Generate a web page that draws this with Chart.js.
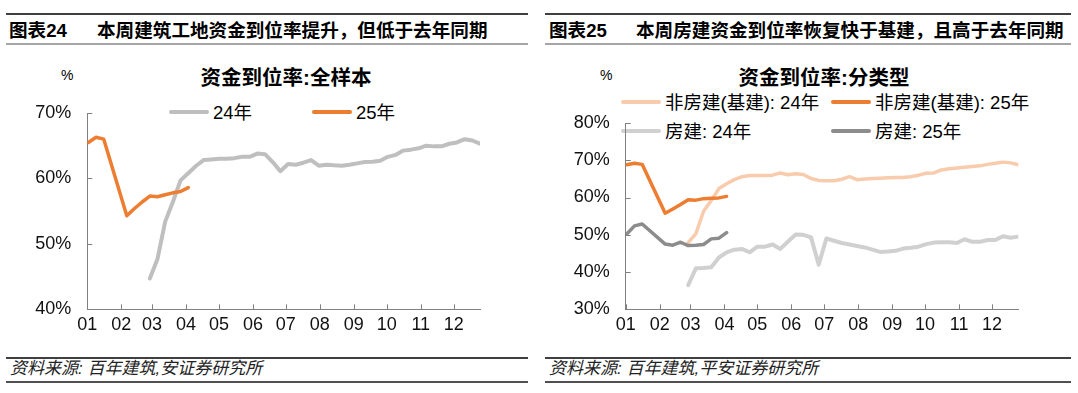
<!DOCTYPE html>
<html lang="zh">
<head>
    <meta charset="UTF-8">
    <title>资金到位率</title>
    <style>
        body {
            margin: 0;
            width: 1078px;
            height: 393px;
            background: #fff;
            position: relative;
            overflow: hidden;
            font-family: 'Liberation Sans', 'Noto Sans CJK SC', sans-serif;
            color: #000;
        }
        .abs { position: absolute; white-space: nowrap; }
        .line-top { position: absolute; height: 2px; background: #404040; }
        .line-sub { position: absolute; height: 2px; background: #a6a6a6; }
        .head { font-size: 18.6px; font-weight: bold; top: 15px; }
        .ctitle { font-size: 20.5px; font-weight: bold; top: 61px; transform: translateX(-50%); }
        .unit { font-size: 14px; top: 67px; }
        .legend { font-size: 18.5px; line-height: 22px; }
        .legend i { display: inline-block; width: 40px; height: 4px; border-radius: 2px; vertical-align: middle; margin-right: 4px; position: relative; top: -2px; }
        .src { font-size: 17px; line-height: 20px; font-style: italic; top: 359px; color: #222; }
        canvas { position: absolute; }
    </style>
</head>
<body>
    <!-- 左图 -->
    <div class="line-top" style="left:6px;width:522px;top:13px"></div>
    <div class="abs head" style="left:9px">图表24</div>
    <div class="abs head" style="left:97px">本周建筑工地资金到位率提升，但低于去年同期</div>
    <div class="line-sub" style="left:6px;width:522px;top:43px"></div>
    <div class="abs unit" style="left:61px">%</div>
    <div class="abs ctitle" style="left:286px">资金到位率:全样本</div>
    <div class="abs legend" style="left:169px;top:102px"><i style="background:#bfbfbf"></i>24年</div>
    <div class="abs legend" style="left:312px;top:102px"><i style="background:#ed7d31"></i>25年</div>
    <canvas id="chartTotal" width="480" height="269" style="left:20px;top:81px;width:480px;height:269px"></canvas>
    <div class="line-top" style="left:6px;width:522px;top:357px"></div>
    <div class="abs src" style="left:10px">资料来源: 百年建筑,安证券研究所</div>
    <div class="line-top" style="left:6px;width:522px;top:381px;background:#505050"></div>

    <!-- 右图 -->
    <div class="line-top" style="left:545px;width:526px;top:13px"></div>
    <div class="abs head" style="left:549px">图表25</div>
    <div class="abs head" style="left:636px">本周房建资金到位率恢复快于基建，且高于去年同期</div>
    <div class="line-sub" style="left:545px;width:526px;top:43px"></div>
    <div class="abs unit" style="left:600px">%</div>
    <div class="abs ctitle" style="left:824px">资金到位率:分类型</div>
    <div class="abs legend" style="left:621px;top:92px"><i style="background:#f8cbad"></i>非房建(基建): 24年</div>
    <div class="abs legend" style="left:831px;top:92px"><i style="background:#ed7d31"></i>非房建(基建): 25年</div>
    <div class="abs legend" style="left:621px;top:121px"><i style="background:#d0d0d0"></i>房建: 24年</div>
    <div class="abs legend" style="left:831px;top:121px"><i style="background:#8c8c8c"></i>房建: 25年</div>
    <canvas id="chartType" width="470" height="259" style="left:560px;top:91px;width:470px;height:259px"></canvas>
    <div class="line-top" style="left:545px;width:526px;top:357px"></div>
    <div class="abs src" style="left:549px">资料来源: 百年建筑,平安证券研究所</div>
    <div class="line-top" style="left:545px;width:526px;top:381px;background:#505050"></div>

    <script src="https://cdn.jsdelivr.net/npm/chart.js"></script>
    <script>
        // 月份刻度（一年中的第几天）
        const monthTicks = [0, 31, 59, 90, 120, 151, 181, 212, 243, 273, 304, 334];
        const monthLabels = ['01', '02', '03', '04', '05', '06', '07', '08', '09', '10', '11', '12'];

        // 每周数据的日期（一年中的第几天）
        const days24 = [57, 64, 71, 78, 85, 92, 99, 106, 113, 120, 127, 134, 141, 148, 155, 162,
            169, 176, 183, 190, 197, 204, 211, 218, 225, 232, 239, 246, 253, 260, 267, 274,
            281, 288, 295, 302, 309, 316, 323, 330, 337, 344, 351, 358];
        const days25 = [1, 8, 15, 36, 43, 50, 57, 64, 71, 78, 85, 92];

        // 全样本
        const total24 = [44.7, 47.7, 53.4, 56.4, 59.7, 60.8, 61.9, 62.8, 62.9, 63.0, 63.0, 63.1,
            63.3, 63.3, 63.8, 63.7, 62.5, 61.1, 62.2, 62.1, 62.4, 62.8, 61.95, 62.1, 62.0, 61.95,
            62.1, 62.3, 62.5, 62.55, 62.7, 63.3, 63.6, 64.25, 64.4, 64.6, 65.0, 64.9, 64.9, 65.3,
            65.5, 66.0, 65.8, 65.3];
        const total25 = [65.5, 66.3, 66.0, 54.3, 55.4, 56.4, 57.3, 57.2, 57.5, 57.8, 58.0, 58.6];

        // 分类型
        const infra24 = [47.9, 50.3, 56.3, 59.2, 62.4, 63.7, 64.8, 65.6, 65.9, 65.9, 65.9, 66.0,
            66.6, 66.1, 66.4, 66.2, 65.1, 64.6, 64.5, 64.5, 64.9, 65.6, 64.8, 65.0, 65.1, 65.2,
            65.3, 65.4, 65.4, 65.6, 66.0, 66.5, 66.6, 67.4, 67.7, 67.9, 68.1, 68.3, 68.5, 68.9,
            69.2, 69.5, 69.3, 68.8];
        const infra25 = [68.8, 69.2, 68.9, 55.8, 56.9, 58.1, 59.4, 59.3, 59.7, 59.8, 59.9, 60.3];
        const house24 = [36.5, 41.0, 41.1, 41.3, 43.9, 45.3, 46.0, 46.2, 45.3, 46.8, 46.8, 47.4,
            46.2, 48.2, 50.1, 50.0, 49.3, 42.0, 49.0, 48.4, 47.8, 47.4, 47.0, 46.6, 46.0, 45.4,
            45.5, 45.7, 46.3, 46.5, 46.8, 47.5, 47.9, 48.0, 48.0, 47.8, 48.8, 48.1, 48.1, 48.6,
            48.6, 49.6, 49.2, 49.5];
        const house25 = [50.2, 52.4, 52.9, 47.5, 47.2, 48.0, 47.1, 47.2, 47.4, 48.9, 49.1, 50.6];

        function pts(days, vals) {
            return days.map((d, i) => ({ x: d, y: vals[i] }));
        }

        function ds(label, days, vals, color, width) {
            return {
                label: label,
                data: pts(days, vals),
                borderColor: color,
                borderWidth: width,
                pointRadius: 0,
                tension: 0,
                borderJoinStyle: 'round',
                borderCapStyle: 'round'
            };
        }

        // 刻度线画在坐标轴内侧
        const innerTicks = {
            id: 'innerTicks',
            afterDatasetsDraw(chart) {
                const ctx = chart.ctx;
                const xs = chart.scales.x, ys = chart.scales.y;
                ctx.save();
                ctx.strokeStyle = '#808080';
                ctx.lineWidth = 1;
                ctx.beginPath();
                xs.ticks.forEach(t => {
                    const px = Math.round(xs.getPixelForValue(t.value)) + 0.5;
                    ctx.moveTo(px, ys.bottom);
                    ctx.lineTo(px, ys.bottom - 5);
                });
                ys.ticks.forEach(t => {
                    const py = Math.round(ys.getPixelForValue(t.value)) + 0.5;
                    ctx.moveTo(xs.left, py);
                    ctx.lineTo(xs.left + 5, py);
                });
                ctx.stroke();
                ctx.restore();
            }
        };

        function makeChart(id, datasets, yMin, yMax, yWidth, padRight) {
            const tickFont = { family: "'Liberation Sans', sans-serif", size: 18 };
            return new Chart(document.getElementById(id), {
                type: 'line',
                data: { datasets: datasets },
                options: {
                    responsive: false,
                    animation: false,
                    // 顶部留白大于刻度文字的溢出，绘图区顶部 = 画布顶部 + 32
                    layout: { padding: { top: 32, right: padRight, left: 0, bottom: 0 } },
                    plugins: { legend: { display: false }, tooltip: { enabled: false } },
                    scales: {
                        x: {
                            type: 'linear',
                            min: 0,
                            max: 358,
                            afterBuildTicks: s => { s.ticks = monthTicks.map(v => ({ value: v })); },
                            afterFit: s => { s.height = 40.7; },
                            grid: { display: false, drawTicks: false },
                            border: { display: true, color: '#808080', width: 1 },
                            ticks: {
                                autoSkip: false,
                                maxRotation: 0,
                                padding: 5,
                                color: '#111',
                                font: tickFont,
                                callback: (v, i) => monthLabels[i]
                            }
                        },
                        y: {
                            min: yMin,
                            max: yMax,
                            afterFit: s => { s.width = yWidth; },
                            grid: { display: false, drawTicks: false },
                            border: { display: true, color: '#808080', width: 1 },
                            ticks: {
                                stepSize: 10,
                                padding: 16,
                                color: '#111',
                                font: tickFont,
                                callback: v => v + '%'
                            }
                        }
                    }
                },
                plugins: [innerTicks]
            });
        }

        makeChart('chartTotal', [
            ds('25年', days25, total25, '#ed7d31', 3.5),
            ds('24年', days24, total24, '#bfbfbf', 4)
        ], 40, 70, 67.3, 20);

        makeChart('chartType', [
            ds('非房建(基建): 25年', days25, infra25, '#ed7d31', 3.5),
            ds('房建: 25年', days25, house25, '#8c8c8c', 3.5),
            ds('非房建(基建): 24年', days24, infra24, '#f8cbad', 3.5),
            ds('房建: 24年', days24, house24, '#d0d0d0', 4)
        ], 30, 80, 65.7, 11.7);
    </script>
</body>
</html>
